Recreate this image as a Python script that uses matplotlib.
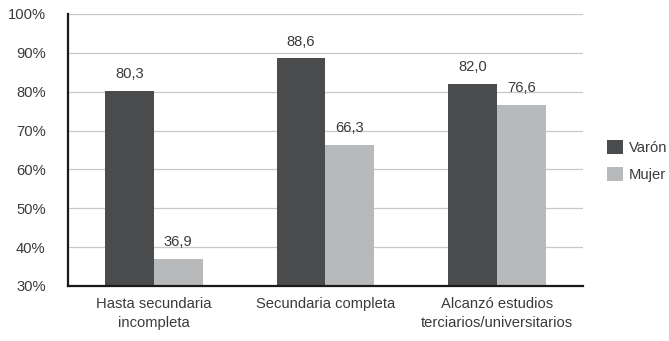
import numpy as np
import matplotlib.pyplot as plt

plt.rcParams['font.family'] = ['Liberation Sans', 'DejaVu Sans']

categories = ["Hasta secundaria\nincompleta", "Secundaria completa",
              "Alcanzó estudios\nterciarios/universitarios"]
varon = [80.3, 88.6, 82.0]
mujer = [36.9, 66.3, 76.6]
yticks = [30, 40, 50, 60, 70, 80, 90, 100]

fig = plt.figure(figsize=(6.69, 3.41), dpi=100)
ax = fig.add_axes([0.1016, 0.1613, 0.7698, 0.7977])

x = np.arange(len(categories))
w = 0.285
dark = '#4a4b4d'
light = '#b8b9bb'
txt = '#3a3a3a'
fs = 10.6

b1 = ax.bar(x - w/2, [v - 30 for v in varon], w, bottom=30, color=dark, label='Varón', zorder=3)
b2 = ax.bar(x + w/2, [v - 30 for v in mujer], w, bottom=30, color=light, label='Mujer', zorder=3)

for bars, vals in ((b1, varon), (b2, mujer)):
    for rect, v in zip(bars, vals):
        ax.annotate(f"{v:.1f}".replace('.', ','), (rect.get_x() + rect.get_width()/2, v),
                    xytext=(0, 7), textcoords='offset points', ha='center', va='bottom',
                    fontsize=fs, color=txt)

ax.set_xlim(-0.5, 2.5)
ax.set_ylim(30, 100)
ax.set_yticks(yticks)
ax.set_yticklabels([f"{t}%" for t in yticks], fontsize=fs, color=txt)
ax.set_xticks(x)
ax.set_xticklabels(categories, fontsize=fs, color=txt, linespacing=1.45)
ax.tick_params(length=0)
ax.tick_params(axis='x', pad=8)
ax.tick_params(axis='y', pad=16)
ax.yaxis.grid(True, color='#c8c8c8', linewidth=0.9, zorder=0)
ax.set_axisbelow(True)
for s in ('top', 'right'):
    ax.spines[s].set_visible(False)
for s in ('left', 'bottom'):
    ax.spines[s].set_linewidth(1.6)
    ax.spines[s].set_color('#1a1a1a')
    ax.spines[s].set_zorder(4)

ax.legend(loc='center left', bbox_to_anchor=(1.02, 0.46), frameon=False, fontsize=fs,
          handlelength=1.1, handleheight=1.1, handletextpad=0.4, labelspacing=0.85,
          labelcolor=txt)

fig.savefig('out.png', dpi=100)
